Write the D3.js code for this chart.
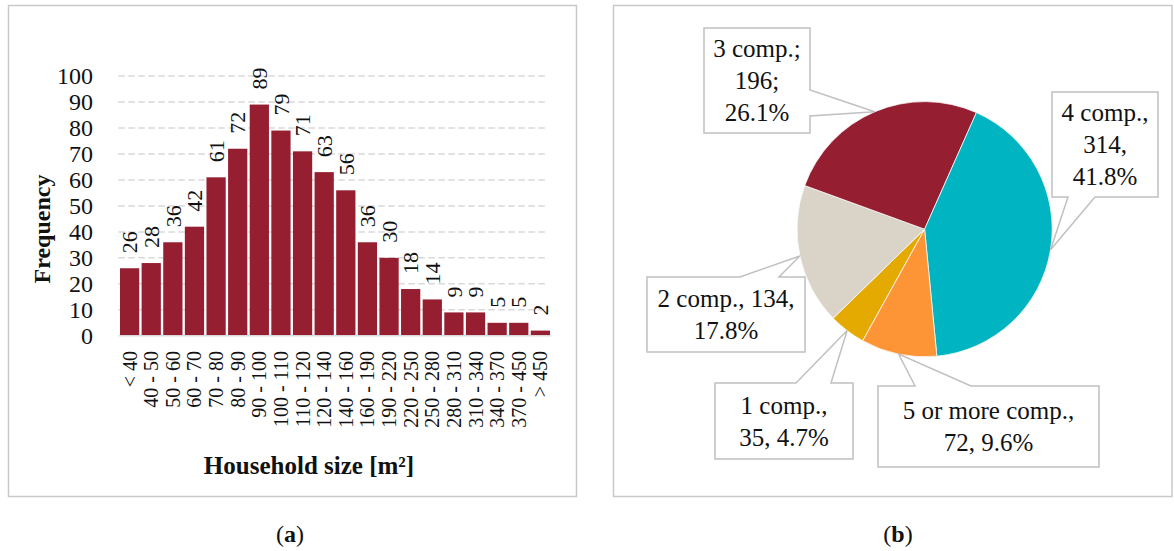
<!DOCTYPE html>
<html>
<head>
<meta charset="utf-8">
<script src="https://cdn.jsdelivr.net/npm/d3@7"></script>
<style>
  body { margin: 0; background: #fff; }
</style>
</head>
<body>
<svg></svg>
<script>
const width = 1174;
const height = 551;
const serif = 'Liberation Serif';

/* histogram data */
const sizeClasses = ['< 40', '40 - 50', '50 - 60', '60 - 70', '70 - 80', '80 - 90', '90 - 100',
  '100 - 110', '110 - 120', '120 - 140', '140 - 160', '160 - 190', '190 - 220', '220 - 250',
  '250 - 280', '280 - 310', '310 - 340', '340 - 370', '370 - 450', '> 450'];
const frequencies = [26, 28, 36, 42, 61, 72, 89, 79, 71, 63, 56, 36, 30, 18, 14, 9, 9, 5, 5, 2];
const freqTicks = [0, 10, 20, 30, 40, 50, 60, 70, 80, 90, 100];

/* pie data */
const compNames = ['1 comp.', '2 comp.', '3 comp.', '4 comp.', '5 or more comp.'];
const compCounts = [35, 134, 196, 314, 72];
const compColors = ['#e4aa02', '#d9d3c8', '#951e31', '#00b4c1', '#fd9537'];
const compSeps = [',', ',', ';', ',', ','];
const compLines = [[[0], [1, 2]], [[0, 1], [2]], [[0], [1], [2]], [[0], [1], [2]], [[0], [1, 2]]];

/* callout boxes: box and the side of the pointer */
const callouts = [
  { x0: 715, y0: 383, x1: 853, y1: 459, side: 'top', a: 796, b: 831 },
  { x0: 647, y0: 277, x1: 805, y1: 352, side: 'top', a: 740, b: 779 },
  { x0: 704, y0: 28, x1: 810, y1: 133, side: 'right', a: 90, b: 116 },
  { x0: 1052, y0: 92, x1: 1158, y1: 197, side: 'bottom', a: 1068, b: 1095 },
  { x0: 878, y0: 386, x1: 1099, y1: 467, side: 'top', a: 915, b: 971 }
];

const svg = d3.select('svg')
  .attr('width', width)
  .attr('height', height)
  .attr('font-family', serif)
  .style('display', 'block');

/* panel frames */
svg.append('rect')
  .attr('x', 8.5).attr('y', 5.5).attr('width', 568).attr('height', 491)
  .attr('fill', 'none').attr('stroke', '#c9c9c9').attr('stroke-width', 1.5);
svg.append('rect')
  .attr('x', 613.5).attr('y', 5.5).attr('width', 558.5).attr('height', 491)
  .attr('fill', 'none').attr('stroke', '#c9c9c9').attr('stroke-width', 1.5);

/* ---------- (a) histogram ---------- */
const xScale = d3.scaleBand()
  .domain(sizeClasses)
  .range([118.8, 551.2])
  .paddingInner(0.11)
  .paddingOuter(0.055);

const yScale = d3.scaleLinear()
  .domain([0, 100])
  .range([335.8, 76]);

/* dashed grid */
svg.append('g')
  .selectAll('line')
  .data(freqTicks.filter(d => d > 0))
  .join('line')
    .attr('x1', 118.3)
    .attr('x2', 547)
    .attr('y1', d => yScale(d))
    .attr('y2', d => yScale(d))
    .attr('stroke', '#d9d9d9')
    .attr('stroke-width', 1.5)
    .attr('stroke-dasharray', '6.5,3.5');

/* y axis */
const yAxis = d3.axisLeft(yScale)
  .tickValues(freqTicks)
  .tickSize(0)
  .tickPadding(0);

svg.append('g')
  .attr('transform', 'translate(93,0)')
  .call(yAxis)
  .attr('font-family', serif)
  .call(g => g.select('.domain').remove())
  .selectAll('text')
    .attr('font-family', serif)
    .attr('font-size', 24)
    .attr('fill', '#111');

/* bars */
svg.append('g')
  .selectAll('rect')
  .data(frequencies)
  .join('rect')
    .attr('x', (d, i) => xScale(sizeClasses[i]))
    .attr('y', d => yScale(d))
    .attr('width', xScale.bandwidth())
    .attr('height', d => yScale(0) - yScale(d))
    .attr('fill', '#951e31');

/* baseline */
svg.append('line')
  .attr('x1', xScale.range()[0]).attr('x2', xScale.range()[1])
  .attr('y1', yScale(0)).attr('y2', yScale(0))
  .attr('stroke', '#d9d9d9').attr('stroke-width', 1.5);

/* value labels */
svg.append('g')
  .selectAll('text')
  .data(frequencies)
  .join('text')
    .attr('transform', (d, i) =>
      `translate(${xScale(sizeClasses[i]) + xScale.bandwidth() / 2}, ${yScale(d) - 15}) rotate(-90)`)
    .attr('dy', '0.35em')
    .attr('font-family', serif)
    .attr('font-size', 22)
    .attr('fill', '#111')
    .text(d => d);

/* category labels */
svg.append('g')
  .selectAll('text')
  .data(sizeClasses)
  .join('text')
    .attr('transform', d => `translate(${xScale(d) + xScale.bandwidth() / 2}, 351) rotate(-90)`)
    .attr('dy', '0.35em')
    .attr('text-anchor', 'end')
    .attr('font-family', serif)
    .attr('font-size', 20)
    .attr('fill', '#111')
    .text(d => d);

/* axis titles */
svg.append('text')
  .attr('transform', 'translate(42,229) rotate(-90)')
  .attr('dy', '0.35em')
  .attr('text-anchor', 'middle')
  .attr('font-family', serif)
  .attr('font-size', 24)
  .attr('font-weight', 'bold')
  .attr('fill', '#111')
  .text('Frequency');

svg.append('text')
  .attr('x', 309).attr('y', 474)
  .attr('text-anchor', 'middle')
  .attr('font-family', serif)
  .attr('font-size', 25)
  .attr('font-weight', 'bold')
  .attr('fill', '#111')
  .text('Household size [m²]');

/* ---------- (b) pie ---------- */
const cx = 924.6;
const cy = 229.2;
const radius = 127.6;
const total = d3.sum(compCounts);
const pctFmt = d3.format('.1%');

const pie = d3.pie()
  .sort(null)
  .startAngle(209 * Math.PI / 180)
  .endAngle(569 * Math.PI / 180);

const arcs = pie(compCounts);
const arc = d3.arc().innerRadius(0).outerRadius(radius);
const rim = d3.arc().innerRadius(radius).outerRadius(radius);

const pieG = svg.append('g')
  .attr('transform', `translate(${cx},${cy})`);

pieG.selectAll('path')
  .data(arcs)
  .join('path')
    .attr('d', arc)
    .attr('fill', (d, i) => compColors[i])
    .attr('stroke', '#fff')
    .attr('stroke-width', 0.75);

/* callout shape: box with a wedge pointing to the slice */
function calloutPath(c, tip) {
  const p = d3.path();
  p.moveTo(c.x0, c.y0);
  if (c.side === 'top') { p.lineTo(c.a, c.y0); p.lineTo(tip[0], tip[1]); p.lineTo(c.b, c.y0); }
  p.lineTo(c.x1, c.y0);
  if (c.side === 'right') { p.lineTo(c.x1, c.a); p.lineTo(tip[0], tip[1]); p.lineTo(c.x1, c.b); }
  p.lineTo(c.x1, c.y1);
  if (c.side === 'bottom') { p.lineTo(c.b, c.y1); p.lineTo(tip[0], tip[1]); p.lineTo(c.a, c.y1); }
  p.lineTo(c.x0, c.y1);
  p.closePath();
  return p.toString();
}

const labelG = svg.append('g');

arcs.forEach((d, i) => {
  const c = callouts[i];
  const t = rim.centroid(d);
  const tip = [cx + t[0], cy + t[1]];

  labelG.append('path')
    .attr('d', calloutPath(c, tip))
    .attr('fill', '#fff')
    .attr('stroke', '#c0c0c0')
    .attr('stroke-width', 1.5)
    .attr('stroke-linejoin', 'miter');

  const parts = [compNames[i] + compSeps[i], compCounts[i] + compSeps[i], pctFmt(compCounts[i] / total)];
  const lines = compLines[i].map(g => g.map(k => parts[k]).join(' '));
  const mx = (c.x0 + c.x1) / 2;
  const my = (c.y0 + c.y1) / 2 + 8.5;

  labelG.append('text')
    .attr('text-anchor', 'middle')
    .attr('font-family', serif)
    .attr('font-size', 25)
    .attr('fill', '#111')
    .selectAll('tspan')
    .data(lines)
    .join('tspan')
      .attr('x', mx)
      .attr('y', (l, k) => my + (k - (lines.length - 1) / 2) * 32)
      .text(l => l);
});

/* captions */
[['a', 290], ['b', 898]].forEach(([letter, x]) => {
  const cap = svg.append('text')
    .attr('x', x).attr('y', 542)
    .attr('text-anchor', 'middle')
    .attr('font-family', serif)
    .attr('font-size', 24)
    .attr('fill', '#111');
  cap.append('tspan').text('(');
  cap.append('tspan').attr('font-weight', 'bold').text(letter);
  cap.append('tspan').text(')');
});
</script>
</body>
</html>
